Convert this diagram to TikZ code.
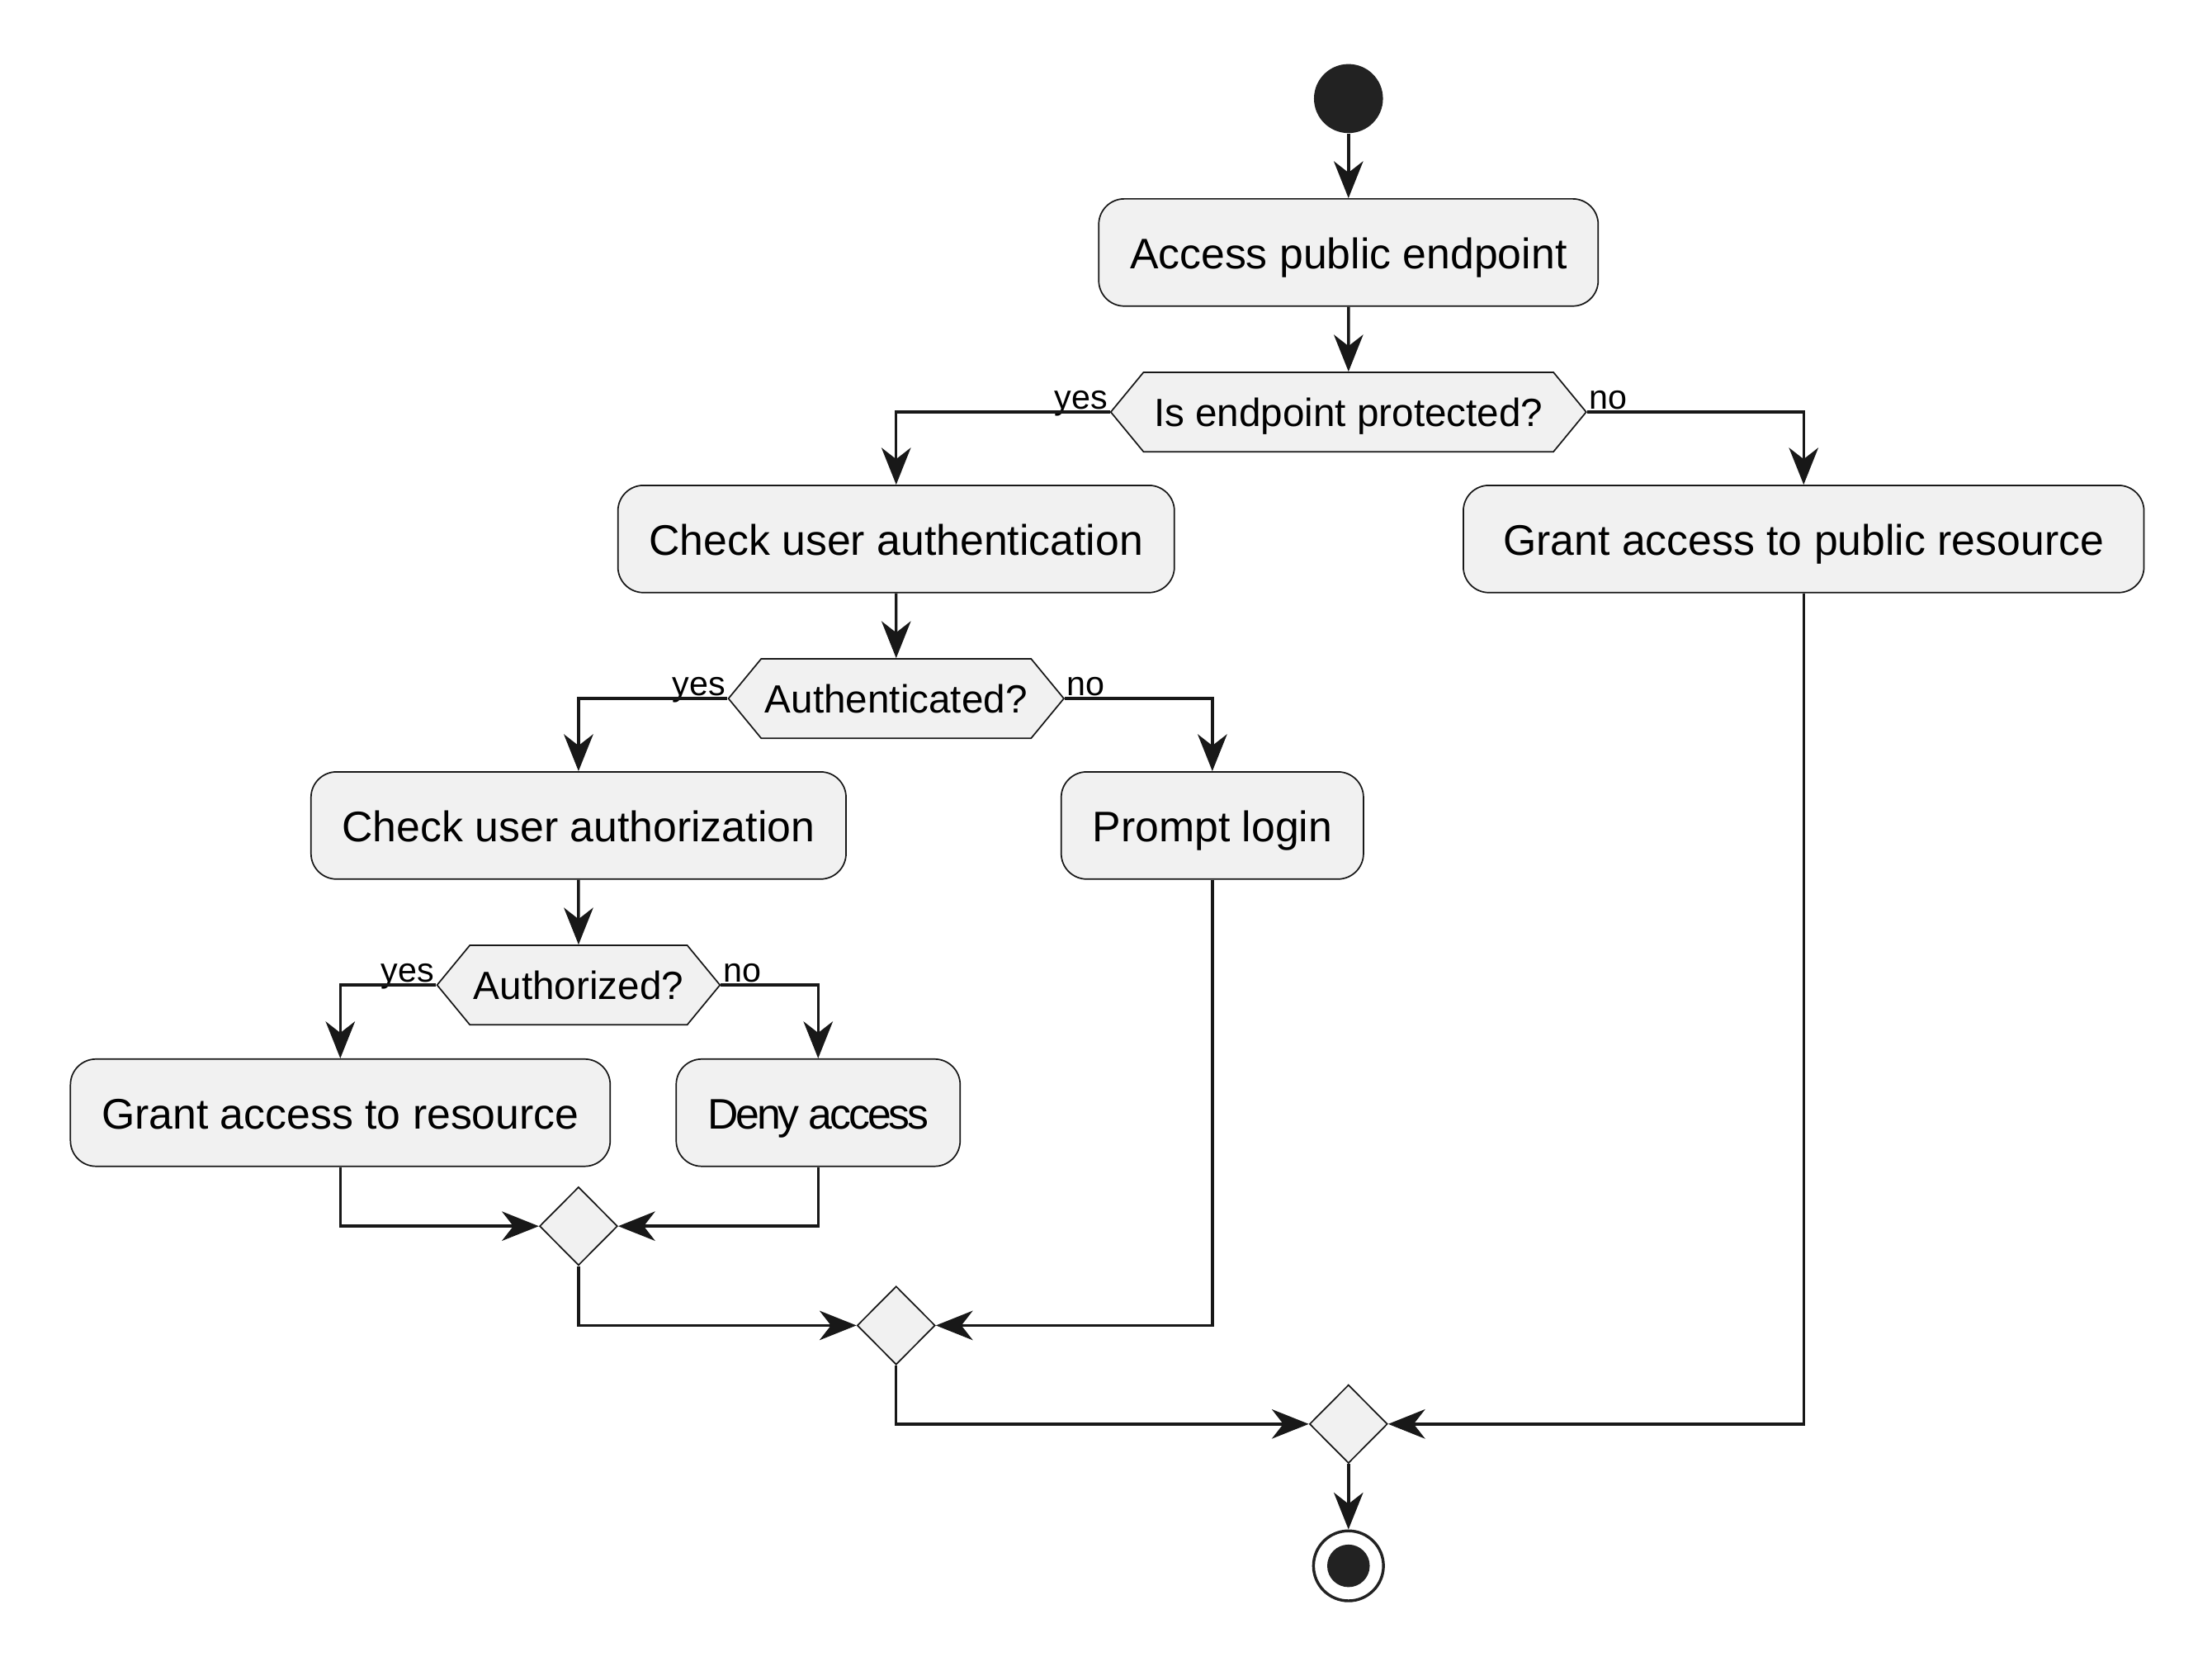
\documentclass[tikz,border=0pt]{standalone}
\usepackage{fontspec}
\setmainfont{Liberation Sans}
\usetikzlibrary{arrows.meta,calc,shapes.geometric,shapes.symbols}
\definecolor{actfill}{HTML}{F1F1F1}
\definecolor{actline}{HTML}{181818}
\definecolor{dotfill}{HTML}{222222}
\begin{document}
\begin{tikzpicture}[x=0.75pt,y=0.75pt,yscale=-1,xscale=1,
  activity/.style={draw=actline,fill=actfill,line width=0.75pt,rounded corners=13.5pt,minimum height=56.7pt,inner xsep=16.5pt,text height=20pt,text depth=3pt,font=\fontsize{22.6}{27}\selectfont},
  decision/.style={draw=actline,fill=actfill,line width=0.75pt,signal,signal to=west and east,signal pointer angle=101,minimum height=42pt,inner xsep=2pt,text height=18pt,text depth=2.7pt,font=\fontsize{20.8}{25}\selectfont},
  merge/.style={draw=actline,fill=actfill,line width=0.75pt,diamond,minimum width=41.25pt,minimum height=41.5pt,inner sep=0pt},
  guard/.style={inner sep=1pt,font=\fontsize{18}{20}\selectfont},
  flow/.style={draw=actline,line width=1.5pt,-{Stealth[length=19.5pt,width=15.5pt,inset=6pt]}}]
\useasboundingbox (0,0) rectangle (1560,1178);

% Start and stop
\node [circle,fill=dotfill,minimum size=36.5pt,inner sep=0pt] (start) at (951,69.5) {};
\node [circle,draw=dotfill,line width=1.5pt,fill=white,minimum size=37pt,inner sep=0pt,
  path picture={\fill[dotfill] (path picture bounding box.center) circle (11.25pt);}] (stop) at (951,1104) {};

% Activities
\node [activity] (apub) at (951,178) {Access public endpoint};
\node [activity] (authn) at (632,380) {Check user authentication};
\node [activity,minimum width=360pt] (pubres) at (1272,380) {Grant access to public resource};
\node [activity] (authz) at (408,582) {Check user authorization};
\node [activity] (login) at (855,582) {Prompt login};
\node [activity] (grant) at (240,784.5) {Grant access to resource};
\node [activity] (deny) at (577,784.5) {\addfontfeature{LetterSpace=-6}Deny access};

% Decisions
\node [decision,inner xsep=5.5pt] (prot) at (951,290.5) {Is endpoint protected?};
\node [decision] (authd) at (632,492.5) {Authenticated?};
\node [decision] (authzd) at (408,694.5) {Authorized?};

% Merges
\node [merge] (mz) at (408,864.5) {};
\node [merge] (mn) at (632,934.5) {};
\node [merge] (mp) at (951,1004) {};

% Guards
\node [guard,anchor=base east] (protyes) at ($(prot.west)+(0,-2)$) {yes};
\node [guard,anchor=base west] (protno) at ($(prot.east)+(0,-2)$) {no};
\node [guard,anchor=base east] (authdyes) at ($(authd.west)+(0,-2)$) {yes};
\node [guard,anchor=base west] (authdno) at ($(authd.east)+(0,-2)$) {no};
\node [guard,anchor=base east] (authzdyes) at ($(authzd.west)+(0,-2)$) {yes};
\node [guard,anchor=base west] (authzdno) at ($(authzd.east)+(0,-2)$) {no};

% Connectors
\draw [flow] (start) -- (apub);
\draw [flow] (apub) -- (prot);
\draw [flow] (prot.west) -| (authn.north);
\draw [flow] (prot.east) -| (pubres.north);
\draw [flow] (authn) -- (authd);
\draw [flow] (authd.west) -| (authz.north);
\draw [flow] (authd.east) -| (login.north);
\draw [flow] (authz) -- (authzd);
\draw [flow] (authzd.west) -| (grant.north);
\draw [flow] (authzd.east) -| (deny.north);
\draw [flow] (grant.south) |- (mz.west);
\draw [flow] (deny.south) |- (mz.east);
\draw [flow] (mz.south) |- (mn.west);
\draw [flow] (login.south) |- (mn.east);
\draw [flow] (mn.south) |- (mp.west);
\draw [flow] (pubres.south) |- (mp.east);
\draw [flow] (mp) -- (stop);

\end{tikzpicture}
\end{document}
